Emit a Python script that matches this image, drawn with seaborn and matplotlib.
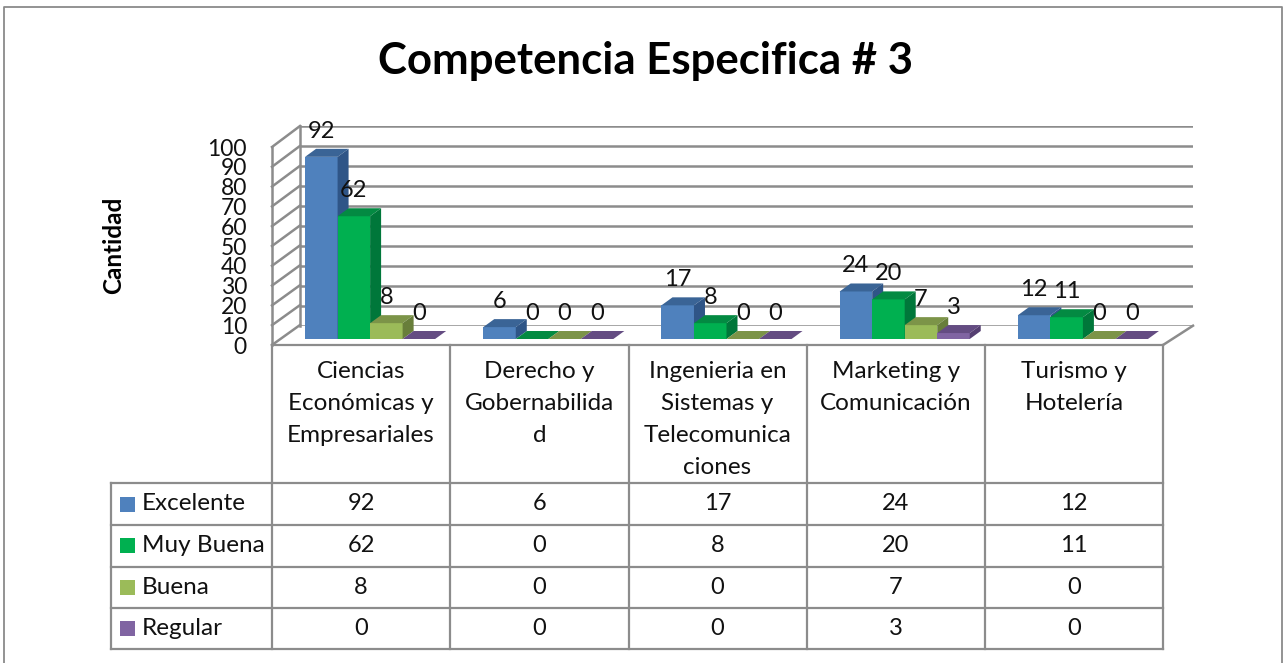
import pandas as pd
import seaborn as sns
import matplotlib.pyplot as plt
from matplotlib.patches import Polygon, Rectangle

carreras = ['Ciencias\nEconómicas y\nEmpresariales', 'Derecho y\nGobernabilida\nd',
            'Ingenieria en\nSistemas y\nTelecomunica\nciones', 'Marketing y\nComunicación',
            'Turismo y\nHotelería']
niveles = ['Excelente', 'Muy Buena', 'Buena', 'Regular']
excelente = [92, 6, 17, 24, 12]
muy_buena = [62, 0, 8, 20, 11]
buena = [8, 0, 0, 7, 0]
regular = [0, 0, 0, 3, 0]
y_ticks = [0, 10, 20, 30, 40, 50, 60, 70, 80, 90, 100]

colores = ['#4F81BD', '#00B050', '#9BBB59', '#8064A2']
colores_top = ['#3A6496', '#038A42', '#7C9448', '#644C82']
colores_lado = ['#2F5587', '#00773A', '#687E3A', '#553F71']
gris = '#8C8C8C'
texto = '#111111'

W, H = 1285, 663
plt.rcParams['font.family'] = ['Lato', 'DejaVu Sans']


def caja(x0, x1, y_bottom, y_top):
    return [x0 / W, 1 - y_bottom / H, (x1 - x0) / W, (y_bottom - y_top) / H]


df = pd.DataFrame({'carrera': carreras * 4,
                   'nivel': [n for n in niveles for _ in carreras],
                   'cantidad': excelente + muy_buena + buena + regular})

fig = plt.figure(figsize=(W / 100, H / 100), dpi=100, facecolor='white')

# capa en pixeles para marco, tabla y lineas inclinadas
px = fig.add_axes([0, 0, 1, 1], zorder=0)
px.set_xlim(0, W)
px.set_ylim(H, 0)
px.axis('off')

col_x = [272, 450, 628.5, 806.5, 985, 1163]
fila_y = [483, 525, 566.5, 607.5, 649]
linea = dict(color=gris, lw=1.6, solid_capstyle='projecting')

px.plot([4, 4, 1282, 1282], [H, 7, 7, H], color='#8A8A8A', lw=1.3)

# pared trasera con su rejilla
ax_back = fig.add_axes(caja(300, 1193, 325.7, 125.7), zorder=1)
ax_back.set_ylim(0, 100)
ax_back.set_yticks(y_ticks)
ax_back.set_xticks([])
ax_back.tick_params(left=False, labelleft=False)
ax_back.grid(axis='y', color=gris, lw=1.8)
ax_back.set_facecolor('none')
for s in ax_back.spines.values():
    s.set_visible(False)

# plano frontal: escala y etiqueta
ax_wall = fig.add_axes(caja(272, 1163, 345, 147), zorder=1)
ax_wall.set_ylim(0, 100)
ax_wall.set_xlim(0, 1)
ax_wall.set_yticks(y_ticks)
ax_wall.set_xticks([])
ax_wall.tick_params(axis='y', length=0, pad=18, labelsize=16.5, labelcolor=texto)
ax_wall.set_facecolor('none')
for s in ax_wall.spines.values():
    s.set_visible(False)

for v in y_ticks:
    y = 345 - v * 1.98
    px.plot([272, 300], [y, y - 20 - v * 0.01], color=gris, lw=1.8)
px.plot([300, 300], [325.7, 125.7], color=gris, lw=1.8)
px.plot([1163, 1193], [345, 325.7], color=gris, lw=1.8)
px.plot([272, 272], [147, 345], color=gris, lw=1.8)

# tabla inferior
px.plot([272, 1163], [345, 345], **linea)
for x in col_x:
    px.plot([x, x], [345, fila_y[-1]], **linea)
px.plot([111, 111], [fila_y[0], fila_y[-1]], **linea)
for y in fila_y:
    px.plot([111, 1163], [y, y], **linea)

for i, nombre in enumerate(carreras):
    cx = (col_x[i] + col_x[i + 1]) / 2
    for j, parte in enumerate(nombre.split('\n')):
        px.text(cx, 371 + j * 32, parte, ha='center', va='center', fontsize=17.5, color=texto)

valores = [excelente, muy_buena, buena, regular]
for f, nivel in enumerate(niveles):
    yc = (fila_y[f] + fila_y[f + 1]) / 2
    px.add_patch(Rectangle((120, yc - 7.5), 15, 15, color=colores[f], lw=0))
    px.text(142, yc, nivel, ha='left', va='center', fontsize=17.5, color=texto)
    for i, val in enumerate(valores[f]):
        cx = (col_x[i] + col_x[i + 1]) / 2
        px.text(cx, yc, str(val), ha='center', va='center', fontsize=17, color=texto)

# barras
ax = fig.add_axes(caja(281, 1172, 339, 141), zorder=2)
ax.set_facecolor('none')
sns.barplot(data=df, x='carrera', y='cantidad', hue='nivel', order=carreras, hue_order=niveles,
            palette=colores, saturation=1, width=0.73, gap=0, errorbar=None, legend=False, ax=ax)
ax.set_ylim(0, 100)
ax.set_xlim(-0.5, 4.5)
ax.axis('off')

dx = 11 / (891 / 5)
dy = 8 / 1.98
for h, cont in enumerate(ax.containers):
    for barra in cont:
        x0 = barra.get_x()
        x1 = x0 + barra.get_width()
        alto = barra.get_height()
        barra.set_zorder(3 + h)
        barra.set_linewidth(0)
        ax.add_patch(Polygon([(x0, alto), (x1, alto), (x1 + dx, alto + dy), (x0 + dx, alto + dy)],
                             color=colores_top[h], lw=0, zorder=3 + h, clip_on=False))
        ax.add_patch(Polygon([(x1, 0), (x1 + dx, dy), (x1 + dx, alto + dy), (x1, alto)],
                             color=colores_lado[h], lw=0, zorder=3 + h, clip_on=False))
    etiquetas = ax.bar_label(cont, padding=11, fontsize=17, color=texto, clip_on=False)
    for e in etiquetas:
        e.set_zorder(10)

fig.text(645 / W, 1 - 61 / H, 'Competencia Especifica # 3', ha='center', va='center',
         fontsize=31.5, fontweight='bold', color='black')
fig.text(114 / W, 1 - 245 / H, 'Cantidad', ha='center', va='center', rotation=90,
         fontsize=17.5, fontweight='bold', color='black')

fig.savefig('out.png', dpi=100, facecolor='white')
